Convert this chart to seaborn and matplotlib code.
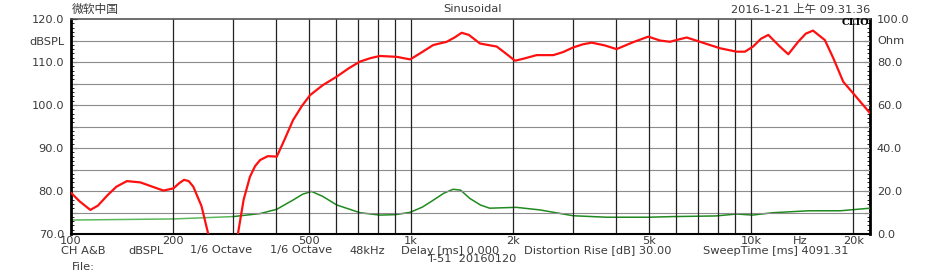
import numpy as np
import pandas as pd
import matplotlib
matplotlib.use("Agg")
import matplotlib.pyplot as plt
import seaborn as sns

# ---- data ----
spl_freq = [100, 106, 114, 120, 128, 136, 146, 160, 175, 187, 200, 208, 215, 222, 229, 242, 253, 268,
            296, 310, 322, 336, 348, 360, 379, 403, 425, 450, 478, 505, 550, 605, 655, 708,
            760, 810, 908, 995, 1063, 1163, 1274, 1350, 1410, 1480, 1596, 1700, 1787, 1900,
            2023, 2150, 2342, 2623, 2800, 3003, 3200, 3398, 3700, 4025, 4500, 4990, 5400, 5777,
            6100, 6471, 7080, 8110, 9070, 9600, 10150, 10700, 11250, 12160, 12880, 13770, 14500,
            15230, 16500, 17470, 18690, 20200, 22400]
spl_db = [79.6, 77.6, 75.6, 76.6, 79.0, 81.0, 82.3, 82.0, 80.9, 80.1, 80.6, 81.8, 82.6, 82.3, 81.0,
          76.5, 70.2, 63.0,
          63.0, 70.2, 78.0, 83.3, 85.8, 87.2, 88.1, 88.0, 92.0, 96.5, 99.8, 102.3, 104.6, 106.6, 108.5,
          110.1, 110.9, 111.4, 111.2, 110.6, 112.0, 113.95, 114.7, 115.8, 116.8, 116.3, 114.3, 113.9,
          113.6, 112.0,
          110.3, 110.8, 111.6, 111.6, 112.3, 113.4, 114.1, 114.5, 113.9, 113.0, 114.6, 115.9, 115.0,
          114.7, 115.2, 115.7, 114.7, 113.2, 112.4, 112.4, 113.6, 115.4, 116.3, 113.6, 111.8, 114.7,
          116.6, 117.3, 115.1, 110.9, 105.4, 102.3, 98.1]

imp_freq = [100, 200, 300, 360, 403, 450, 480, 510, 550, 605, 708, 810, 900, 995, 1080,
            1165, 1250, 1330, 1400, 1488, 1600, 1704, 2040, 2395, 2998, 3760, 5000, 5900,
            7880, 9080, 10100, 11600, 14800, 18300, 22400]
imp_ohm = [6.5, 7.0, 8.1, 9.5, 11.5, 15.8, 18.5, 19.8, 17.5, 13.5, 9.9, 8.8, 9.0, 10.1, 12.5,
           15.8, 19.0, 20.8, 20.4, 16.6, 13.5, 12.0, 12.4, 11.2, 8.5, 7.8, 7.8, 8.1,
           8.4, 9.3, 8.8, 9.9, 10.8, 10.8, 12.0]

left_ticks = [70, 75, 80, 85, 90, 95, 100, 105, 110, 115, 120]
left_labels = ["70.0", "", "80.0", "", "90.0", "", "100.0", "", "110.0", "dBSPL", "120.0"]
right_ticks = [0, 10, 20, 30, 40, 50, 60, 70, 80, 90, 100]
right_labels = ["0.0", "", "20.0", "", "40.0", "", "60.0", "", "80.0", "Ohm", "100.0"]
x_ticks = [100, 200, 500, 1000, 2000, 5000, 10000, 20000]
x_labels = ["100", "200", "500", "1k", "2k", "5k", "10k", "20k"]
vgrid = [200, 300, 400, 500, 600, 700, 800, 900, 1000,
         2000, 3000, 4000, 5000, 6000, 7000, 8000, 9000, 10000, 20000]
footer_items = ["CH A&B", "dBSPL", "1/6 Octave", "1/6 Octave", "48kHz",
                "Delay [ms] 0.000", "Distortion Rise [dB] 30.00", "SweepTime [ms] 4091.31"]
footer_x = [61, 128, 190, 270, 349, 401, 524, 703]

sns.set_style("white")
plt.rcParams['font.family'] = ['DejaVu Sans', 'Noto Sans CJK SC']

txt_col = "#3a3a3a"
fs = 8.2

fig = plt.figure(figsize=(9.44, 2.73), dpi=100)
ax = fig.add_axes([71/944, 1-234/273, (870-71)/944, (234-19)/273])
ax2 = ax.twinx()

ax.set_xscale("log")
ax.set_xlim(100, 22400)
ax.set_ylim(70, 120)
ax2.set_ylim(0, 100)

# grid
for y in left_ticks[1:-1]:
    ax.axhline(y, color="#8c8c8c", lw=0.8, zorder=1)
for f in vgrid:
    ax.axvline(f, color="#222222", lw=0.9, zorder=1)

df_spl = pd.DataFrame({"freq": spl_freq, "db": spl_db})
df_imp = pd.DataFrame({"freq": imp_freq, "ohm": imp_ohm})
df_imp_lo = df_imp[df_imp["freq"] <= 300]
df_imp_hi = df_imp[df_imp["freq"] >= 300]
sns.lineplot(data=df_spl, x="freq", y="db", ax=ax, color="#ff1010", lw=1.6, zorder=5,
             sort=False, estimator=None)
sns.lineplot(data=df_imp_lo, x="freq", y="ohm", ax=ax2, color="#5cb85c", lw=1.1, zorder=5,
             sort=False, estimator=None)
sns.lineplot(data=df_imp_hi, x="freq", y="ohm", ax=ax2, color="#1f8a1f", lw=1.1, zorder=5,
             sort=False, estimator=None)
ax.set_zorder(ax2.get_zorder() + 1)
ax.patch.set_visible(False)
ax2.set_zorder(0)

ax.set_xlabel("")
ax.set_ylabel("")
ax2.set_ylabel("")

ax.set_xticks(x_ticks)
ax.set_xticklabels(x_labels)
ax.xaxis.set_minor_locator(matplotlib.ticker.NullLocator())
ax.tick_params(axis="x", length=0, labelsize=fs, colors=txt_col, pad=1.5)

ax.set_yticks(left_ticks)
ax.set_yticklabels(left_labels)
ax.set_yticks(np.arange(70, 121, 1), minor=True)
ax.tick_params(axis="y", which="major", direction="in", length=4, width=0.8,
               labelsize=fs, colors="black", labelcolor=txt_col, pad=5)
ax.tick_params(axis="y", which="minor", direction="in", length=2.5, width=0.6, colors="black")

ax2.set_yticks(right_ticks)
ax2.set_yticklabels(right_labels)
ax2.set_yticks(np.arange(0, 101, 2), minor=True)
ax2.tick_params(axis="y", which="major", direction="in", length=4, width=0.8,
                labelsize=fs, colors="black", labelcolor=txt_col, pad=5)
ax2.tick_params(axis="y", which="minor", direction="in", length=2.5, width=0.6, colors="black")

for a in (ax, ax2):
    for s in a.spines.values():
        s.set_visible(False)
ax.spines["left"].set_visible(True)
ax.spines["left"].set_linewidth(2)
ax.spines["left"].set_color("black")
ax.spines["bottom"].set_visible(True)
ax.spines["bottom"].set_linewidth(1.5)
ax.spines["bottom"].set_color("black")
ax.spines["top"].set_visible(True)
ax.spines["top"].set_linewidth(1.2)
ax.spines["top"].set_color("#555555")
ax2.spines["right"].set_visible(True)
ax2.spines["right"].set_linewidth(2)
ax2.spines["right"].set_color("black")

# Hz label
ax.text(14000, -0.008, "Hz", transform=ax.get_xaxis_transform(), ha="center", va="top",
        fontsize=fs, color=txt_col)

# header texts
fig.text(72/944, 1-9/273, "微软中国", fontsize=8.5, color=txt_col, ha="left", va="center",
         family=['Noto Sans CJK SC', 'DejaVu Sans'])
fig.text(472/944, 1-9/273, "Sinusoidal", fontsize=fs, color=txt_col, ha="center", va="center")
fig.text(870/944, 1-9/273, "2016-1-21 上午 09.31.36", fontsize=fs, color=txt_col,
         ha="right", va="center")
fig.text(869/944, 1-22.5/273, "CLIO", fontsize=7, color="black", ha="right", va="center",
         family="DejaVu Serif", fontweight="bold")

# footer texts
for item, xp in zip(footer_items, footer_x):
    fig.text(xp/944, 1-250.5/273, item, fontsize=fs, color=txt_col, ha="left", va="center")
fig.text(472/944, 1-259/273, "T-51  20160120", fontsize=fs, color=txt_col, ha="center",
         va="center")
fig.text(72/944, 1-266.5/273, "File:", fontsize=fs, color=txt_col, ha="left", va="center")

fig.savefig("out.png", dpi=100)
